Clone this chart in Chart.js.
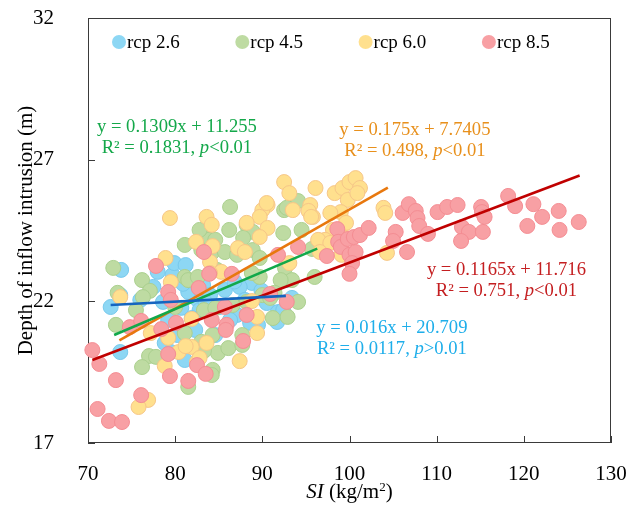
<!DOCTYPE html>
<html>
<head>
<meta charset="utf-8">
<script src="https://cdn.jsdelivr.net/npm/chart.js@4/dist/chart.umd.min.js"></script>
<style>
  html, body { margin: 0; padding: 0; background: #fff; }
  #wrap { width: 638px; height: 506px; }
</style>
</head>
<body>
<div id="wrap"><canvas id="c" width="638" height="506"></canvas></div>
<script>
// Scenario names
const scenarios = ['rcp 2.6', 'rcp 4.5', 'rcp 6.0', 'rcp 8.5'];

// Observations: [SI (kg/m²), depth of inflow intrusion (m)]
const rcp26 = [
  [73.8,23.11],[77.5,22.51],[72.6,21.80],[73.7,22.22],[79.7,22.93],[78.6,21.98],[80.7,21.77],[82.6,22.05],
  [81.5,22.33],[83.2,22.58],[79.2,21.34],[80.3,20.81],[78.8,20.53],[73.7,20.21],[81.1,19.93],[79.5,20.21],
  [79.9,23.35],[81.2,23.28],[78.0,23.04],[92.7,22.75],[90.5,21.94],[91.8,21.62],[91.7,21.27],[89.5,21.17],
  [88.8,22.65],[88.6,21.24],[82.8,21.69],[87.4,22.51],[93.4,22.12],[85.1,21.80],[87.1,21.52],[81.9,21.41],
  [92.4,21.69],[84.0,22.22],[85.7,22.40],[86.3,21.34],[82.3,20.99],[84.6,20.81],[88.0,22.05],[76.0,22.05],
  [83.5,21.95],[86.8,22.70],[80.9,22.62],[89.9,22.38]
];
const rcp45 = [
  [86.3,25.33],[92.5,25.22],[94.1,25.54],[86.2,24.52],[83.4,24.52],[81.1,23.99],[83.8,24.17],[94.5,24.52],
  [92.8,25.30],[92.4,24.41],[88.2,24.70],[88.9,24.45],[87.8,24.24],[84.6,24.17],[82.8,24.52],[84.2,23.71],
  [85.7,23.74],[87.1,23.64],[88.9,23.81],[89.7,23.53],[95.7,23.85],[92.6,23.18],[96.0,22.86],[84.8,23.11],
  [93.4,22.75],[72.9,23.18],[76.2,22.75],[83.0,23.81],[81.1,22.86],[77.1,22.37],[73.4,22.30],[75.5,21.69],
  [73.2,21.17],[76.3,22.15],[81.5,22.75],[82.6,22.86],[83.3,21.69],[80.0,21.80],[81.1,20.88],[77.0,20.07],
  [77.8,20.04],[76.2,19.68],[81.5,18.98],[83.0,20.57],[89.7,22.86],[92.1,22.75],[91.4,22.30],[90.0,22.22],
  [90.9,22.12],[86.6,21.87],[88.2,21.98],[91.2,21.41],[92.9,21.45],[94.1,21.98],[84.3,20.81],[84.9,20.18],
  [86.1,20.35],[87.7,20.46],[87.7,20.81],[84.3,19.58],[84.2,19.40],[83.3,20.25],[84.6,21.76],[88.8,23.00]
];
const rcp60 = [
  [96.1,26.00],[98.3,25.82],[99.2,26.00],[100.0,26.21],[100.7,26.35],[101.2,26.00],[99.8,25.58],[100.9,25.82],
  [99.0,25.15],[103.9,25.30],[104.1,25.12],[95.5,25.40],[95.8,24.98],[97.8,25.12],[98.1,24.52],[99.6,24.77],
  [97.2,24.17],[96.4,24.17],[97.8,24.06],[99.6,24.24],[96.6,23.74],[99.1,23.64],[104.3,23.71],[92.5,26.21],
  [93.1,25.82],[83.6,24.98],[90.6,25.40],[90.0,25.22],[89.7,24.98],[88.2,24.77],[90.6,24.59],[89.7,24.27],
  [93.5,25.22],[95.3,25.19],[95.6,24.98],[87.2,23.88],[88.0,23.74],[93.1,23.35],[84.0,23.39],[84.3,23.95],
  [85.3,23.04],[79.4,24.94],[82.4,24.10],[78.9,23.53],[90.5,25.47],[73.7,22.15],[79.5,22.68],[81.9,21.38],
  [81.9,20.39],[80.4,20.21],[81.2,20.42],[78.8,19.72],[82.5,19.86],[76.9,18.52],[75.8,18.27],[79.2,20.71],
  [77.2,20.88],[83.6,20.53],[87.4,19.89],[89.4,20.88],[89.4,21.45],[88.8,22.01],[82.8,20.00],[84.0,23.00],
  [84.2,24.70]
];
const rcp85 = [
  [70.5,20.28],[71.3,19.79],[73.2,19.22],[71.1,18.20],[72.4,17.78],[73.9,17.74],[76.1,18.69],[74.8,21.09],
  [76.1,21.31],[77.8,23.25],[79.2,22.33],[79.5,22.05],[79.4,19.36],[78.4,21.02],[80.1,21.24],[81.5,19.19],
  [82.5,19.75],[83.5,19.44],[82.7,22.47],[83.9,22.97],[84.2,21.34],[83.3,23.74],[85.7,21.80],[85.9,21.17],
  [85.8,20.99],[86.5,22.97],[88.2,21.52],[87.8,20.60],[92.8,21.98],[91.8,23.64],[94.1,23.92],[90.9,22.26],
  [79.2,20.14],[98.6,24.55],[98.7,24.10],[99.0,23.92],[99.8,24.20],[100.5,24.27],[101.2,24.34],[102.2,24.59],
  [97.4,23.60],[100.0,23.64],[100.7,23.74],[100.3,23.35],[100.0,22.97],[105.3,24.45],[105.0,24.13],[106.6,23.74],
  [106.1,25.12],[106.8,25.43],[107.6,25.19],[107.8,24.94],[108.0,24.66],[109.0,24.38],[110.1,25.15],[111.2,25.33],
  [112.4,25.40],[115.1,25.33],[115.2,25.15],[115.5,24.98],[112.9,24.62],[113.7,24.45],[112.8,24.13],[115.3,24.45],
  [118.2,25.72],[119.0,25.36],[121.1,25.43],[122.1,24.98],[120.4,24.66],[124.0,25.19],[124.1,24.52],[126.3,24.80]
];

// Linear fits per scenario
const slopes     = [0.016, 0.1309, 0.175, 0.1165];
const intercepts = [20.709, 11.255, 7.7405, 11.716];
const rSquared   = [0.0117, 0.1831, 0.498, 0.751];
const pRelation  = ['>', '<', '<', '<'];
const fitRange   = [[72.6, 92.7], [73.0, 96.3], [73.6, 104.4], [70.5, 126.4]];

// Axis ticks
const xTicks = [70, 80, 90, 100, 110, 120, 130];
const yTicks = [17, 22, 27, 32];

const series = [rcp26, rcp45, rcp60, rcp85];
const pointFill   = ['#8dd7f4', '#bedba2', '#ffe08e', '#f8a0a4'];
const pointStroke = ['#78c9ec', '#abd08f', '#f6c688', '#f48d93'];
const lineColors  = ['#1565c0', '#12a84a', '#e8780e', '#c00000'];
const textColors  = ['#1eaeea', '#14a84a', '#e8901c', '#c41e20'];
// Label anchors (centre of first text line, in axis units)
const labelAt = [[104.86, 21.06], [80.2, 28.15], [107.5, 28.05], [118.0, 23.1]];

const FONT = '"Liberation Serif", "Times New Roman", serif';

const datasets = [];
// fit lines first so they stay above the points
series.forEach((pts, i) => {
  const [x0, x1] = fitRange[i];
  datasets.push({
    type: 'line',
    label: 'fit ' + scenarios[i],
    data: [{x: x0, y: slopes[i] * x0 + intercepts[i]}, {x: x1, y: slopes[i] * x1 + intercepts[i]}],
    borderColor: lineColors[i],
    borderWidth: 2.6,
    pointRadius: 0,
    fill: false,
    order: 0,
    clip: false
  });
});
const pointOrder = [4, 3, 2, 1];
series.forEach((pts, i) => {
  datasets.push({
    type: 'scatter',
    label: scenarios[i],
    data: pts.map(p => ({x: p[0], y: p[1]})),
    backgroundColor: pointFill[i],
    borderColor: pointStroke[i],
    borderWidth: 1,
    pointRadius: 7.5,
    pointHoverRadius: 7.5,
    order: pointOrder[i],
    clip: false
  });
});

function drawRuns(ctx, runs, cx, cy, size) {
  // runs: [text, italic, superscript]
  const fontOf = r => (r[1] ? 'italic ' : '') + (r[2] ? size * 0.62 : size) + 'px ' + FONT;
  const widths = runs.map(r => { ctx.font = fontOf(r); return ctx.measureText(r[0]).width; });
  const total = widths.reduce((a, b) => a + b, 0);
  let x = cx - total / 2;
  runs.forEach((r, k) => {
    ctx.font = fontOf(r);
    ctx.fillText(r[0], x, r[2] ? cy - size * 0.33 : cy);
    x += widths[k];
  });
}

// Scales keep their fitted size but ask for no extra room around the plot
function noOverflow(s) {
  s.paddingTop = 0; s.paddingBottom = 0; s.paddingLeft = 0; s.paddingRight = 0;
}

const framePlugin = {
  id: 'frame',
  beforeDatasetsDraw(chart) {
    const {ctx, chartArea: a, scales} = chart;
    ctx.save();
    ctx.strokeStyle = '#3a3a3a';
    ctx.lineWidth = 1;
    ctx.strokeRect(a.left + 0.5, a.top + 0.5, a.right - a.left - 1, a.bottom - a.top - 1);
    // inward tick marks
    ctx.beginPath();
    xTicks.forEach(v => {
      const px = Math.round(scales.x.getPixelForValue(v)) + 0.5;
      ctx.moveTo(px, a.bottom);
      ctx.lineTo(px, a.bottom - 7);
    });
    yTicks.forEach(v => {
      const py = Math.round(scales.y.getPixelForValue(v)) + 0.5;
      ctx.moveTo(a.left, py);
      ctx.lineTo(a.left + 7, py);
    });
    ctx.stroke();
    ctx.restore();
  },
  afterDraw(chart) {
    const {ctx, chartArea: a, scales} = chart;
    ctx.save();
    ctx.textBaseline = 'alphabetic';
    ctx.textAlign = 'left';
    ctx.fillStyle = '#000';
    // x axis title
    drawRuns(ctx, [['SI', true], [' (kg/m', false], ['2', false, true], [')', false]],
      (a.left + a.right) / 2, 498, 21);

    // legend
    ctx.textBaseline = 'middle';
    scenarios.forEach((name, i) => {
      const cx = a.left + 31 + i * 123.3, cy = 42;
      ctx.beginPath();
      ctx.arc(cx, cy, 7, 0, Math.PI * 2);
      ctx.fillStyle = pointFill[i];
      ctx.fill();
      ctx.fillStyle = '#000';
      ctx.font = '19px ' + FONT;
      ctx.fillText(name, cx + 8, cy + 1);
    });

    // fit equations
    slopes.forEach((s, i) => {
      const cx = scales.x.getPixelForValue(labelAt[i][0]);
      const cy = scales.y.getPixelForValue(labelAt[i][1]);
      ctx.fillStyle = textColors[i];
      drawRuns(ctx, [['y = ' + s + 'x + ' + intercepts[i], false]], cx, cy, 18.6);
      drawRuns(ctx, [['R² = ' + rSquared[i] + ', ', false], ['p', true], [pRelation[i] + '0.01', false]],
        cx, cy + 21, 18.6);
    });
    ctx.restore();
  }
};

new Chart(document.getElementById('c'), {
  data: { datasets },
  options: {
    responsive: false,
    devicePixelRatio: 1,
    animation: false,
    layout: { padding: { top: 18, right: 27, left: 0, bottom: 0 } },
    plugins: { legend: { display: false }, tooltip: { enabled: false } },
    scales: {
      x: {
        type: 'linear',
        min: 70, max: 130,
        afterFit: s => { s.height = 63; noOverflow(s); },
        afterBuildTicks: s => { s.ticks = xTicks.map(v => ({value: v})); },
        grid: { display: false },
        border: { display: false },
        ticks: { color: '#000', font: { family: FONT, size: 21 }, padding: 11, maxRotation: 0 }
      },
      y: {
        type: 'linear',
        min: 17, max: 32,
        afterFit: s => { s.width = 88; noOverflow(s); },
        afterBuildTicks: s => { s.ticks = yTicks.map(v => ({value: v})); },
        grid: { display: false },
        border: { display: false },
        ticks: { color: '#000', font: { family: FONT, size: 21 }, padding: 26 },
        title: {
          display: true,
          text: 'Depth of inflow intrusion (m)',
          color: '#000',
          font: { family: FONT, size: 21 },
          padding: { top: 14, bottom: 0 }
        }
      }
    }
  },
  plugins: [framePlugin]
});
</script>
</body>
</html>
